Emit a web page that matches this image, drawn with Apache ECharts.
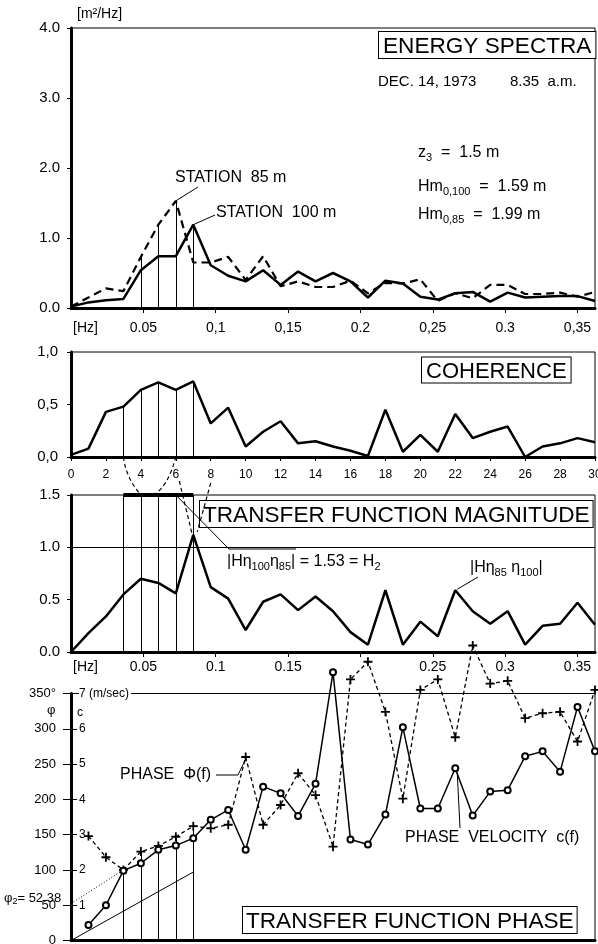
<!DOCTYPE html>
<html><head><meta charset="utf-8">
<script src="https://cdn.jsdelivr.net/npm/echarts@6/dist/echarts.min.js"></script>
<style>html,body{margin:0;padding:0;background:#fff}#c{width:598px;height:944px}</style>
</head><body><div id="c"></div>
<script>
// ---- data (frequency index k, f = k * HZ_PER_INDEX) ----
const freqIndex = [0,1,2,3,4,5,6,7,8,9,10,11,12,13,14,15,16,17,18,19,20,21,22,23,24,25,26,27,28,29,30];
const spectrum100 = [0.02,0.08,0.11,0.13,0.54,0.74,0.74,1.19,0.61,0.46,0.38,0.54,0.33,0.52,0.38,0.50,0.38,0.15,0.39,0.35,0.16,0.12,0.21,0.23,0.09,0.22,0.15,0.16,0.17,0.17,0.10];
const spectrum85 = [0.02,0.15,0.28,0.24,0.73,1.19,1.53,0.65,0.65,0.73,0.40,0.74,0.31,0.38,0.30,0.30,0.39,0.21,0.36,0.35,0.41,0.10,0.21,0.14,0.33,0.33,0.20,0.20,0.22,0.16,0.23];
const coherence = [0.02,0.08,0.43,0.48,0.64,0.71,0.64,0.72,0.32,0.47,0.10,0.24,0.34,0.13,0.15,0.10,0.06,0.01,0.45,0.05,0.21,0.05,0.41,0.18,0.24,0.29,0.00,0.10,0.13,0.18,0.14];
const magnitude = [0.00,0.18,0.34,0.55,0.70,0.66,0.56,1.12,0.62,0.51,0.21,0.48,0.55,0.40,0.53,0.39,0.19,0.07,0.59,0.07,0.29,0.15,0.59,0.39,0.27,0.39,0.07,0.25,0.27,0.47,0.26];
const phaseIndex = [1,2,3,4,5,6,7,8,9,10,11,12,13,14,15,16,17,18,19,20,21,22,23,24,25,26,27,28,29,30];
const phaseDeg = [148,118,100,126,134,147,162,159,164,260,164,192,237,206,133,370,395,324,201,355,370,288,418,364,368,315,322,324,282,355];
const phaseVelocity = [0.44,1.00,1.98,2.19,2.57,2.69,2.90,3.42,3.70,2.57,4.36,4.17,3.53,4.44,7.60,2.86,2.72,3.57,6.04,3.74,3.74,4.88,3.54,4.22,4.26,5.22,5.36,4.78,6.62,5.36];
const theoryLine = [[0,0],[7,97]];
const regressionLine = [[0,52.38],[3,100]];
const bandIndex = [3,4,5,6,7];
const spectraBandIndex = [4,5,6,7];
const hzTicksTop = ['0.05','0,1','0,15','0.2','0,25','0.3','0,35'];
const hzTicksMid = ['0.05','0.1','0.15','','0.25','0.3','0.35'];
const HZ_PER_INDEX = 0.01207;

// ---- chart ----
const F = '"Liberation Sans", Arial, sans-serif';
const K = '#000';
const HZ_MAX = 30 * HZ_PER_INDEX;
const chart = echarts.init(document.getElementById('c'));

const grid = [
  {left:71, top:28, width:524, height:280},
  {left:71, top:352, width:524, height:105},
  {left:71, top:495, width:524, height:157},
  {left:71, top:693.5, width:524, height:247}
].map(g => Object.assign({show:true, borderColor:K, borderWidth:1, backgroundColor:'transparent', containLabel:false, outerBoundsMode:'none'}, g));

function idxAxis(g, extra) {
  return Object.assign({type:'value', gridIndex:g, min:0, max:30, position:'bottom',
    axisLine:{show:true, onZero:false, lineStyle:{color:K, width:3}},
    axisTick:{show:false}, axisLabel:{show:false}, splitLine:{show:false}}, extra || {});
}
function hzAxis(g, labels, margin) {
  return {type:'value', gridIndex:g, min:0, max:HZ_MAX, interval:0.05, position:'bottom',
    axisLine:{show:false, onZero:false}, axisTick:{show:true, length:5, lineStyle:{color:K, width:1}},
    splitLine:{show:false},
    axisLabel:{color:K, fontSize:14, fontFamily:F, margin:margin, showMinLabel:false, showMaxLabel:false,
      formatter: v => { const k = Math.round(v / 0.05); return (k >= 1 && k <= labels.length) ? labels[k-1] : ''; }}};
}
function yAx(g, min, max, interval, fmt, extra) {
  return Object.assign({type:'value', gridIndex:g, min, max, interval, position:'left',
    axisLine:{show:true, onZero:false, lineStyle:{color:K, width:3}},
    axisTick:{show:true, length:4, lineStyle:{color:K, width:1}},
    splitLine:{show:false},
    axisLabel:{color:K, fontSize:15, fontFamily:F, margin:11, formatter:fmt}}, extra || {});
}
const pairs = (xs, ys) => xs.map((x, i) => [x, ys[i]]);
const mlBase = {silent:true, symbol:['none','none'], label:{show:false}, emphasis:{disabled:true}, animation:false,
  lineStyle:{color:K, width:1, type:'solid'}};

const option = {
  animation:false,
  grid,
  xAxis: [
    idxAxis(0),
    hzAxis(0, hzTicksTop, 13),
    idxAxis(1, {interval:2, axisTick:{show:true, length:4, lineStyle:{color:K, width:1}},
      axisLabel:{show:true, color:K, fontSize:12, fontFamily:F, margin:12}}),
    idxAxis(2),
    hzAxis(2, hzTicksMid, 8),
    idxAxis(3)
  ],
  yAxis: [
    yAx(0, 0, 4, 1, v => v.toFixed(1)),
    yAx(1, 0, 1, 0.5, null, {axisLabel:{color:K, fontSize:15, fontFamily:F, margin:13, formatter:v => v.toFixed(1).replace('.', ',')}}),
    yAx(2, 0, 1.5, 0.5, v => v.toFixed(1)),
    yAx(3, 0, 350, 50, null,
      {axisTick:{show:true, length:8, lineStyle:{color:K, width:1}},
       axisLabel:{color:K, fontSize:13, fontFamily:F, margin:15, formatter:v => v === 350 ? '350°' : String(v)}}),
    yAx(3, 0, 7, 1, null,
      {axisLine:{show:false, onZero:false}, axisTick:{show:true, inside:true, length:6, lineStyle:{color:K, width:1}},
       axisLabel:{inside:true, color:K, fontSize:12, fontFamily:F, margin:8, backgroundColor:'#fff', padding:[0,2,0,0],
         showMinLabel:false, formatter:v => v === 0 ? '' : (v === 7 ? '7 (m/sec)' : String(v))}})
  ],
  series: [
    {type:'line', name:'STATION 100 m', xAxisIndex:0, yAxisIndex:0, data:pairs(freqIndex, spectrum100), symbol:'none',
      lineStyle:{color:K, width:2.5}, z:3,
      markLine:Object.assign({}, mlBase, {data: spectraBandIndex.map(i => [{coord:[i,0]},{coord:[i, Math.max(spectrum100[i], spectrum85[i])]}])})},
    {type:'line', name:'STATION 85 m', xAxisIndex:0, yAxisIndex:0, data:pairs(freqIndex, spectrum85), symbol:'none',
      lineStyle:{color:K, width:2.2, type:[8,5]}, z:3},
    {type:'line', name:'COHERENCE', xAxisIndex:2, yAxisIndex:1, data:pairs(freqIndex, coherence), symbol:'none',
      lineStyle:{color:K, width:2.5}, z:3,
      markLine:Object.assign({}, mlBase, {data: bandIndex.map(i => [{coord:[i,0]},{coord:[i, coherence[i]]}])})},
    {type:'line', name:'MAGNITUDE', xAxisIndex:3, yAxisIndex:2, data:pairs(freqIndex, magnitude), symbol:'none',
      lineStyle:{color:K, width:2.5}, z:3,
      markLine:Object.assign({}, mlBase, {data: bandIndex.map(i => [{coord:[i,0]},{coord:[i,1.5]}])
        .concat([[{coord:[bandIndex[0],1.5], lineStyle:{width:4}},{coord:[bandIndex[bandIndex.length-1],1.5]}]])
        .concat([{yAxis:1.0}])})},
    {type:'line', name:'PHASE', xAxisIndex:5, yAxisIndex:3, data:pairs(phaseIndex, phaseDeg), clip:false,
      symbol:'path://M4,0H6V4H10V6H6V10H4V6H0V4H4Z', symbolSize:9, itemStyle:{color:K},
      lineStyle:{color:K, width:1.3, type:[4,3]}, z:4,
      markLine:Object.assign({}, mlBase, {data: bandIndex.map(i => [{coord:[i,0]},{coord:[i, phaseDeg[phaseIndex.indexOf(i)]]}])})},
    {type:'line', name:'PHASE VELOCITY', xAxisIndex:5, yAxisIndex:4, data:pairs(phaseIndex, phaseVelocity), clip:false,
      symbol:'emptyCircle', symbolSize:6, itemStyle:{color:K, borderColor:K, borderWidth:1.5},
      lineStyle:{color:K, width:1.5}, z:5},
    {type:'line', name:'theory', xAxisIndex:5, yAxisIndex:3, data:theoryLine, symbol:'none', lineStyle:{color:K, width:1}},
    {type:'line', name:'regression', xAxisIndex:5, yAxisIndex:3, data:regressionLine, symbol:'none', lineStyle:{color:K, width:1, type:[1,2]}}
  ]
};
chart.setOption(option);

// ---- annotations ----
const px = (xi, yi, p) => chart.convertToPixel({xAxisIndex:xi, yAxisIndex:yi}, p);
function rich(size) {
  return {n:{fontSize:size, fontFamily:F, fill:K}, s:{fontSize:Math.round(size*0.7), fontFamily:F, fill:K, padding:[Math.round(size*0.6),0,0,0]}};
}
function T(text, x, y, size, extra) {
  return {type:'text', x, y, z:10, style:Object.assign({text, fontSize:size, fontFamily:F, fill:K, align:'left', verticalAlign:'middle', rich:rich(size)}, extra || {})};
}
function BOX(text, x, y, size, pad) {
  return T(text, x, y, size, {borderColor:K, borderWidth:1, padding:pad || [3,3,0,3], backgroundColor:'#fff'});
}
function L(a, b, w, dash) {
  return {type:'line', z:10, shape:{x1:a[0], y1:a[1], x2:b[0], y2:b[1]}, style:{stroke:K, lineWidth:w || 1, lineDash:dash || null}};
}
function Q(a, c, b, dash) {
  return {type:'bezierCurve', z:10, shape:{x1:a[0], y1:a[1], x2:b[0], y2:b[1], cpx1:c[0], cpy1:c[1]}, style:{stroke:K, lineWidth:1.2, lineDash:dash, fill:null}};
}
const p85 = px(0,0,[6, spectrum85[6]]);
const p100 = px(0,0,[7, spectrum100[7]]);
const cohAt = k => px(2,1,[k,0]);
const magTop = k => px(3,2,[k,1.5]);
const magPeak = px(3,2,[7, magnitude[7]]);
const mag22 = px(3,2,[22, magnitude[22]]);
const ph10 = px(5,3,[10, phaseDeg[phaseIndex.indexOf(10)]]);
const c22 = px(5,4,[22, phaseVelocity[phaseIndex.indexOf(22)]]);

const g = [
  T('[m²/Hz]', 77, 14, 14),
  BOX('ENERGY SPECTRA', 379, 45, 22.6, [3,4,0,4]),
  T('DEC. 14, 1973', 378, 82, 15),
  T('8.35  a.m.', 510, 82, 15),
  T('{n|z}{s|3}{n|  =  1.5 m}', 418, 153, 16),
  T('{n|Hm}{s|0,100}{n|  =  1.59 m}', 418, 187, 16),
  T('{n|Hm}{s|0,85}{n|  =  1.99 m}', 418, 215, 16),
  T('STATION  85 m', 175, 178, 16),
  L([198,187], p85),
  T('STATION  100 m', 216, 213, 16),
  L([215,215], p100),
  T('[Hz]', 73, 328, 14),
  BOX('COHERENCE', 422, 370, 22, [3,4,0,4]),
  BOX('TRANSFER FUNCTION MAGNITUDE', 200, 514, 22.6),
  T('{n||Hη}{s|100}{n|η}{s|85}{n|| = 1.53 = H}{s|2}', 227, 562, 16),
  L([229,549],[296,549]),
  L(magTop(6), [229,549]),
  T('{n||Hη}{s|85}{n| η}{s|100}{n||}', 470, 568, 16),
  L([478,577], [mag22[0]+2, mag22[1]-1]),
  T('[Hz]', 73, 667, 14),
  // schematic connectors coherence -> magnitude
  Q(cohAt(3), [126,478], magTop(4), [4,3]),
  Q(magTop(4.7), [168,487], cohAt(6), [4,3]),
  L([cohAt(6.2)[0], cohAt(0)[1]+24], [magPeak[0]-1, magPeak[1]], 1.2, [4,3]),
  L([cohAt(8)[0], cohAt(0)[1]+26], [magPeak[0]+4, magPeak[1]-3], 1.2, [4,3]),
  // phase panel
  T('φ', 47, 710, 13),
  T('c', 77, 713, 12),
  T('{n|φ}{s|2}{n|= 52.38}', 4, 898, 13),
  T('PHASE  Φ(f)', 120, 775, 16),
  {type:'polyline', z:10, shape:{points:[[216,775],[238,775],[ph10[0], ph10[1]+2]]}, style:{stroke:K, lineWidth:1, fill:null}},
  T('PHASE  VELOCITY  c(f)', 405, 838, 16),
  L([c22[0]+2, c22[1]+5], [460,828]),
  BOX('TRANSFER FUNCTION PHASE', 243, 920, 22.6)
];
chart.setOption({graphic: g});
</script></body></html>
